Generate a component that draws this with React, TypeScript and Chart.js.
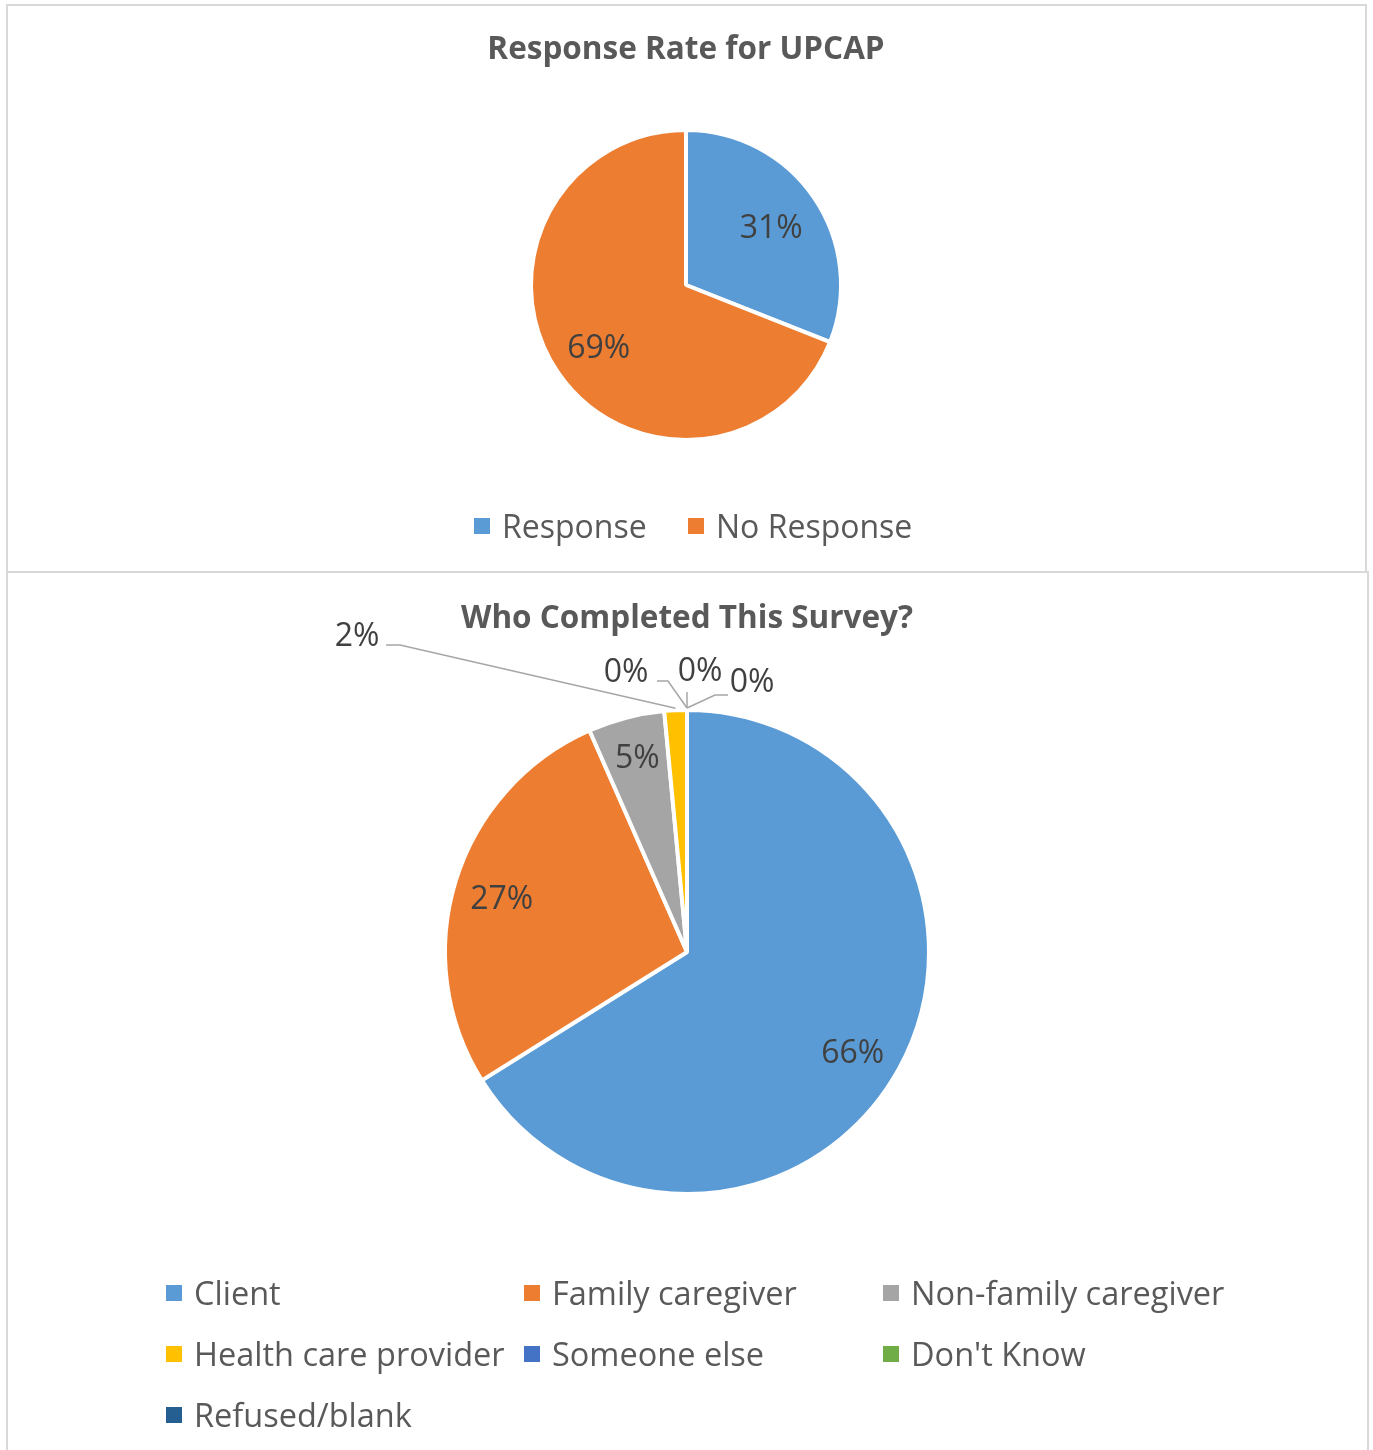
import React, { useEffect, useRef } from "react";
import { Chart, registerables } from "chart.js";

Chart.register(...registerables);

// ---- data ----
const responseTitle = "Response Rate for UPCAP";
const responseLabels = ["Response", "No Response"];
const responseValues = [31, 69];
const responseColors = ["#5B9BD5", "#ED7D31"];

const whoTitle = "Who Completed This Survey?";
const whoLabels = [
  "Client",
  "Family caregiver",
  "Non-family caregiver",
  "Health care provider",
  "Someone else",
  "Don't Know",
  "Refused/blank",
];
const whoValues = [66.1, 27.3, 5.1, 1.5, 0, 0, 0];
const whoColors = ["#5B9BD5", "#ED7D31", "#A5A5A5", "#FFC000", "#4472C4", "#70AD47", "#255E91"];

const FONT = '"Open Sans", "Noto Sans", sans-serif';

const decorPlugin = {
  id: "decor",
  afterDraw(chart: any, _args: any, opts: any) {
    const ctx = chart.ctx as CanvasRenderingContext2D;
    const meta = chart.getDatasetMeta(0);
    const ds = chart.data.datasets[0];
    const values = ds.data as number[];
    const total = values.reduce((a: number, b: number) => a + b, 0);
    ctx.save();
    // title
    ctx.font = `bold ${opts.titleSize}px ${FONT}`;
    ctx.fillStyle = "#595959";
    ctx.textAlign = "center";
    ctx.textBaseline = "alphabetic";
    ctx.fillText(opts.title, opts.titleX, opts.titleY);

    // data labels
    ctx.font = `${opts.labelSize}px ${FONT}`;
    ctx.textBaseline = "middle";
    meta.data.forEach((arc: any, i: number) => {
      const p = arc.getProps(["x", "y", "startAngle", "endAngle", "outerRadius"], true);
      const mid = (p.startAngle + p.endAngle) / 2;
      const txt = Math.round((values[i] * 100) / total) + "%";
      const out = opts.outside ? opts.outside[i] : undefined;
      ctx.fillStyle = "#404040";
      if (out) {
        ctx.strokeStyle = "#A6A6A6";
        ctx.lineWidth = 1.5;
        ctx.beginPath();
        ctx.moveTo(p.x + out.start[0], p.y + out.start[1]);
        ctx.lineTo(p.x + out.elbow[0], p.y + out.elbow[1]);
        ctx.lineTo(
          p.x + Math.cos(mid) * (p.outerRadius + 2),
          p.y + Math.sin(mid) * (p.outerRadius + 2)
        );
        ctx.stroke();
        ctx.fillText(txt, p.x + out.text[0], p.y + out.text[1]);
      } else {
        const rr = p.outerRadius * opts.insideFrac;
        const nudge = (opts.nudge && opts.nudge[i]) || [0, 0];
        ctx.fillText(
          txt,
          p.x + Math.cos(mid) * rr + nudge[0],
          p.y + Math.sin(mid) * rr + nudge[1]
        );
      }
    });

    // legend
    ctx.font = `${opts.legendSize}px ${FONT}`;
    ctx.textAlign = "left";
    ctx.textBaseline = "alphabetic";
    (chart.data.labels as string[]).forEach((lab: string, i: number) => {
      const pos = opts.legendPos[i];
      ctx.fillStyle = ds.backgroundColor[i];
      ctx.fillRect(pos[0], pos[1] - 8, 16, 16);
      ctx.fillStyle = "#595959";
      ctx.fillText(lab, pos[0] + 28, pos[1] + 11.5);
    });
    ctx.restore();
  },
};

function makePie(
  canvas: HTMLCanvasElement,
  labels: string[],
  values: number[],
  colors: string[],
  radius: number,
  padding: any,
  decor: any
) {
  return new Chart(canvas, {
    type: "pie",
    data: {
      labels,
      datasets: [
        {
          data: values,
          backgroundColor: colors,
          borderColor: "#FFFFFF",
          borderWidth: 4,
          radius,
        } as any,
      ],
    },
    options: {
      responsive: false,
      animation: false,
      events: [],
      layout: { padding },
      plugins: {
        legend: { display: false },
        title: { display: false },
        tooltip: { enabled: false },
        decor,
      } as any,
    },
    plugins: [decorPlugin as any],
  });
}

export default function App() {
  const topRef = useRef<HTMLCanvasElement>(null);
  const botRef = useRef<HTMLCanvasElement>(null);

  useEffect(() => {
    const c1 = makePie(
      topRef.current!,
      responseLabels,
      responseValues,
      responseColors,
      155,
      { left: 523, right: 524, top: 124, bottom: 131 },
      {
        title: responseTitle,
        titleX: 678,
        titleY: 53,
        titleSize: 31.5,
        labelSize: 32,
        legendSize: 32,
        insideFrac: 0.665,
        nudge: { 0: [0, 2], 1: [-2, 6] },
        legendPos: [
          [466, 520],
          [680, 520],
        ],
      }
    );
    const c2 = makePie(
      botRef.current!,
      whoLabels,
      whoValues,
      whoColors,
      242,
      { left: 437, right: 438, top: 137, bottom: 256 },
      {
        title: whoTitle,
        titleX: 679,
        titleY: 55,
        titleSize: 31.5,
        labelSize: 32,
        legendSize: 32.5,
        insideFrac: 0.797,
        nudge: { 0: [-3, 8], 1: [-1, 5], 2: [-1, -6] },
        outside: {
          3: { text: [-330, -315], start: [-301, -307], elbow: [-287, -307] },
          4: { text: [-61, -279], start: [-30, -271], elbow: [-19, -271] },
          5: { text: [13, -280], start: [0, -260], elbow: [0, -260] },
          6: { text: [65, -269], start: [41, -257], elbow: [28, -257] },
        },
        legendPos: [
          [158, 720],
          [516, 720],
          [875, 720],
          [158, 781],
          [516, 781],
          [875, 781],
          [158, 842],
        ],
      }
    );
    return () => {
      c1.destroy();
      c2.destroy();
    };
  }, []);

  return (
    <div
      style={{
        position: "absolute",
        left: 0,
        top: 0,
        width: 1373,
        height: 1450,
        overflow: "hidden",
        background: "#FFFFFF",
      }}
    >
      <div
        style={{
          position: "absolute",
          left: 6,
          top: 4,
          width: 1361,
          height: 569,
          border: "2px solid #D9D9D9",
          boxSizing: "border-box",
        }}
      />
      <div
        style={{
          position: "absolute",
          left: 6,
          top: 571,
          width: 1363,
          height: 900,
          border: "2px solid #D9D9D9",
          boxSizing: "border-box",
        }}
      />
      <canvas
        ref={topRef}
        width={1357}
        height={565}
        style={{ position: "absolute", left: 8, top: 6 }}
      />
      <canvas
        ref={botRef}
        width={1359}
        height={877}
        style={{ position: "absolute", left: 8, top: 573 }}
      />
    </div>
  );
}
